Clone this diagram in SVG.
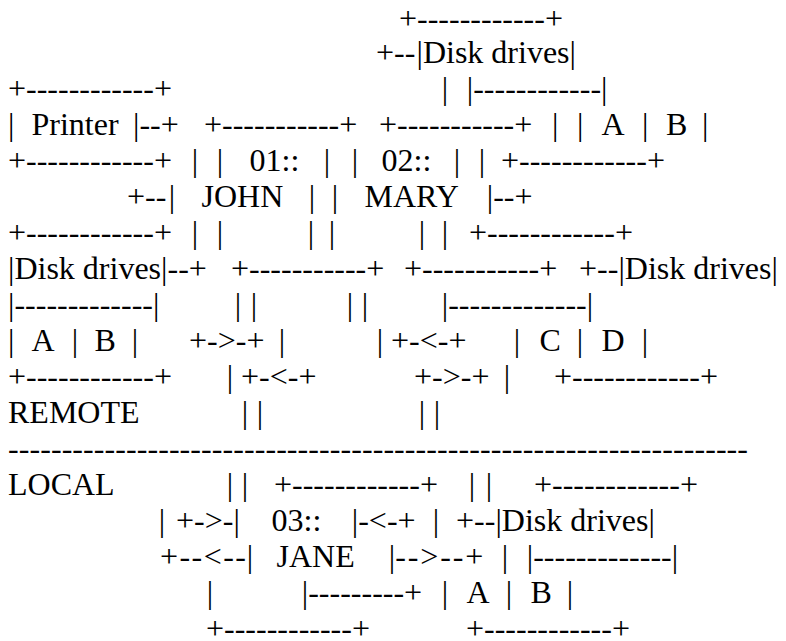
<svg xmlns="http://www.w3.org/2000/svg" width="786" height="641" viewBox="0 0 786 641">
<style>
text{font-family:"Liberation Serif","Times New Roman",serif;font-size:32px;fill:#000}
</style>
<rect width="786" height="641" fill="#fff"/>
<g id="connectors">
<text x="376" y="63">+--</text>
<text x="441.8" y="99">|</text>
<text x="139.4" y="135">--+</text>
<text x="552" y="135">|</text>
<text x="191.8" y="171">|</text>
<text x="478.8" y="171">|</text>
<text x="127" y="207">+--</text>
<text x="493.2" y="207">--+</text>
<text x="191.8" y="243">|</text>
<text x="441.8" y="243">|</text>
<text x="167.5" y="279">--+</text>
<text x="579" y="279">+--</text>
<text x="234.8" y="315">|</text>
<text x="250.8" y="315">|</text>
<text x="346.8" y="315">|</text>
<text x="361.8" y="315">|</text>
<text x="189" y="351">+-&gt;-+</text>
<text x="278.8" y="351">|</text>
<text x="376.8" y="351">|</text>
<text x="391" y="351">+-&lt;-+</text>
<text x="226.8" y="387">|</text>
<text x="241" y="387">+-&lt;-+</text>
<text x="414" y="387">+-&gt;-+</text>
<text x="503.8" y="387">|</text>
<text x="241.8" y="423">|</text>
<text x="256.8" y="423">|</text>
<text x="418.8" y="423">|</text>
<text x="433.8" y="423">|</text>
<text x="226.8" y="495">|</text>
<text x="241.8" y="495">|</text>
<text x="468.8" y="495">|</text>
<text x="485.8" y="495">|</text>
<text x="158.8" y="531">|</text>
<text x="176" y="531">+-&gt;-</text>
<text x="358.2" y="531">-&lt;-+</text>
<text x="432.8" y="531">|</text>
<text x="456" y="531">+--</text>
<text x="160" y="567" textLength="86" lengthAdjust="spacing">+--&lt;--</text>
<text x="395.2" y="567" textLength="88" lengthAdjust="spacing">--&gt;--+</text>
<text x="501.8" y="567">|</text>
<text x="206.8" y="603">|</text>
<text x="308.2" y="603">---------+</text>
</g>
<g id="divider">
<text x="8" y="423">REMOTE</text>
<text x="8" y="459" textLength="740" lengthAdjust="spacing">---------------------------------------------------------------------</text>
<text x="8" y="495">LOCAL</text>
</g>
<g id="disk-top">
<text x="399" y="28.5">+------------+</text>
<text x="416.5" y="63">|Disk drives|</text>
<text x="466.8" y="99">|------------|</text>
<text x="577" y="135">|</text>
<text x="601.5" y="135">A</text>
<text x="642" y="135">|</text>
<text x="666" y="135">B</text>
<text x="702" y="135">|</text>
<text x="501" y="171">+------------+</text>
</g>
<g id="printer">
<text x="8" y="99">+------------+</text>
<text x="8" y="135">|</text>
<text x="31.5" y="135">Printer</text>
<text x="133" y="135">|</text>
<text x="8" y="171">+------------+</text>
</g>
<g id="john">
<text x="204" y="135">+-----------+</text>
<text x="216.8" y="171">|</text>
<text x="249.5" y="171">01::</text>
<text x="323.8" y="171">|</text>
<text x="168.8" y="207">|</text>
<text x="201.5" y="207">JOHN</text>
<text x="308.8" y="207">|</text>
<text x="216.8" y="243">|</text>
<text x="307.8" y="243">|</text>
<text x="231" y="279">+-----------+</text>
</g>
<g id="mary">
<text x="379" y="135">+-----------+</text>
<text x="351.8" y="171">|</text>
<text x="381.5" y="171">02::</text>
<text x="453.8" y="171">|</text>
<text x="331.8" y="207">|</text>
<text x="364.5" y="207">MARY</text>
<text x="486.8" y="207">|</text>
<text x="328.8" y="243">|</text>
<text x="418.8" y="243">|</text>
<text x="404" y="279">+-----------+</text>
</g>
<g id="disk-left">
<text x="8" y="243">+------------+</text>
<text x="8" y="279">|Disk drives|</text>
<text x="8" y="315">|-------------|</text>
<text x="8" y="351">|</text>
<text x="31.5" y="351">A</text>
<text x="71.8" y="351">|</text>
<text x="94.5" y="351">B</text>
<text x="131.8" y="351">|</text>
<text x="8" y="387">+------------+</text>
</g>
<g id="disk-right">
<text x="469" y="243">+------------+</text>
<text x="618.4" y="279">|Disk drives|</text>
<text x="441.8" y="315">|-------------|</text>
<text x="513.8" y="351">|</text>
<text x="539.5" y="351">C</text>
<text x="576.8" y="351">|</text>
<text x="601.5" y="351">D</text>
<text x="641.8" y="351">|</text>
<text x="554" y="387">+------------+</text>
</g>
<g id="jane">
<text x="274" y="495">+------------+</text>
<text x="233.4" y="531">|</text>
<text x="271.5" y="531">03::</text>
<text x="351.8" y="531">|</text>
<text x="246.8" y="567">|</text>
<text x="276.5" y="567">JANE</text>
<text x="388.8" y="567">|</text>
<text x="301.8" y="603">|</text>
<text x="206" y="639">+------------+</text>
</g>
<g id="disk-local">
<text x="534" y="495">+------------+</text>
<text x="495.4" y="531">|Disk drives|</text>
<text x="526.8" y="567">|-------------|</text>
<text x="441.8" y="603">|</text>
<text x="466.5" y="603">A</text>
<text x="505.8" y="603">|</text>
<text x="530.5" y="603">B</text>
<text x="566.8" y="603">|</text>
<text x="466" y="639">+------------+</text>
</g>
</svg>
